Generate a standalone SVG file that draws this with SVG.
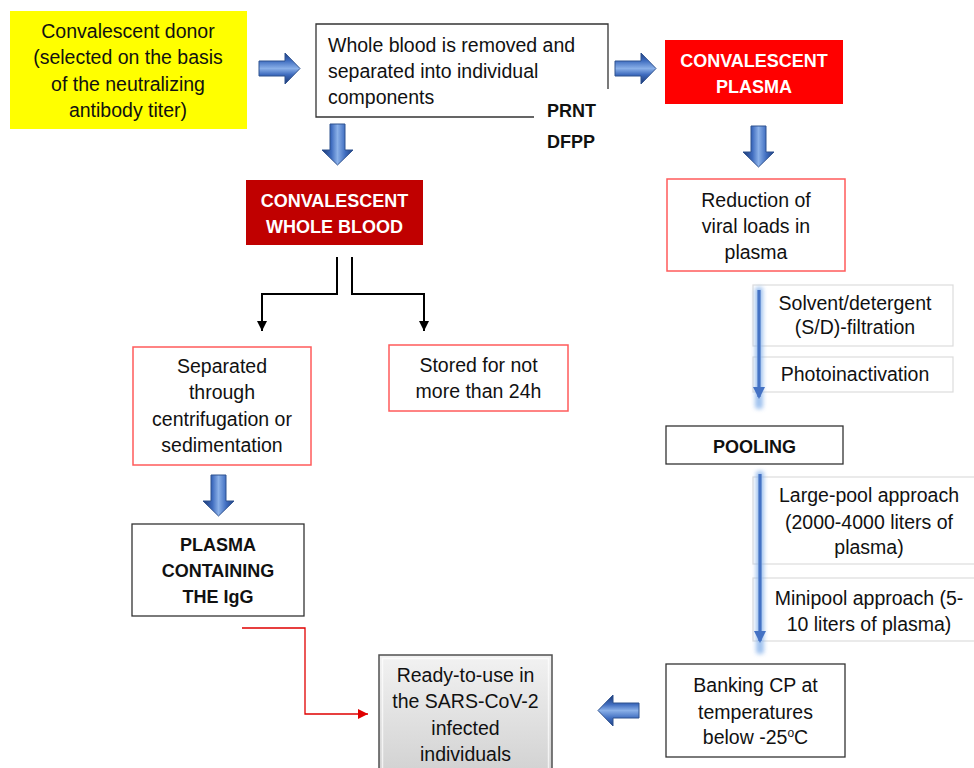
<svg xmlns="http://www.w3.org/2000/svg" width="974" height="768" viewBox="0 0 974 768">
<defs>
<style>
text{font-family:"Liberation Sans",Arial,sans-serif;font-size:19.5px;fill:#111;text-anchor:middle}
.b{font-weight:bold;font-size:18px}
.w{fill:#fff}
.l{text-anchor:start}
.blk{fill:#fff;stroke:#333;stroke-width:1.3}
.pink{fill:#fff;stroke:#FF5B5B;stroke-width:1.5}
.grey{fill:#fff;stroke:#DCDCDC;stroke-width:1.2}
.conn{fill:none;stroke:#000;stroke-width:2}
.blockarrow{fill:url(#bg);stroke:#2F528F;stroke-width:1}
.glow{fill:#8FB8EC;opacity:0.85}
</style>
<linearGradient id="bg" x1="0" y1="0" x2="0" y2="1">
<stop offset="0" stop-color="#1F3F80"/>
<stop offset="0.25" stop-color="#3F6DC0"/>
<stop offset="0.5" stop-color="#8AB0E8"/>
<stop offset="0.7" stop-color="#3E6BBE"/>
<stop offset="1" stop-color="#1A3670"/>
</linearGradient>
<linearGradient id="gg" x1="0" y1="0" x2="0" y2="1">
<stop offset="0" stop-color="#F2F2F2"/>
<stop offset="1" stop-color="#D0D0D0"/>
</linearGradient>
<path id="ra" d="M0,8 H26 V0 L41,15.5 L26,31 V23 H0 Z"/>
<marker id="ah" markerUnits="userSpaceOnUse" markerWidth="12" markerHeight="12" refX="10" refY="6" orient="auto">
<path d="M0,1 L10,6 L0,11 Z" fill="#000"/>
</marker>
<marker id="ahr" markerUnits="userSpaceOnUse" markerWidth="12" markerHeight="12" refX="10" refY="6" orient="auto">
<path d="M0,1 L10,6 L0,11 Z" fill="#E00000"/>
</marker>
<marker id="ahb" markerUnits="userSpaceOnUse" markerWidth="14" markerHeight="14" refX="10" refY="7" orient="auto">
<path d="M0,1 L12,7 L0,13 Z" fill="#4472C4"/>
</marker>
<filter id="glow" filterUnits="userSpaceOnUse" x="700" y="250" width="120" height="450">
<feGaussianBlur stdDeviation="2.2"/>
</filter>
</defs>

<g id="connectors">
<path class="conn" d="M337,257 V294 H262 V331" marker-end="url(#ah)"/>
<path class="conn" d="M352,257 V294 H424 V331" marker-end="url(#ah)"/>
<path d="M242,628 H305 V714 H368" fill="none" stroke="#E00000" stroke-width="1.3" marker-end="url(#ahr)"/>
<use href="#ra" class="blockarrow" transform="translate(259,53)"/>
<use href="#ra" class="blockarrow" transform="translate(615,53)"/>
<use href="#ra" class="blockarrow" transform="translate(353,124) rotate(90)"/>
<use href="#ra" class="blockarrow" transform="translate(774,126) rotate(90)"/>
<use href="#ra" class="blockarrow" transform="translate(234,475) rotate(90)"/>
<use href="#ra" class="blockarrow" transform="translate(639,726) rotate(180)"/>
</g>

<g id="donor">
<rect x="10" y="11" width="237" height="118" fill="#FFFF00"/>
<text x="128" y="37.5">Convalescent donor</text>
<text x="128" y="64">(selected on the basis</text>
<text x="128" y="90.5">of the neutralizing</text>
<text x="128" y="117">antibody titer)</text>
</g>

<g id="whole-blood-removed">
<path d="M534,117 H316 V24 H608 V89" fill="#fff" stroke="#333" stroke-width="1.3"/>
<text class="l" x="328" y="52">Whole blood is removed and</text>
<text class="l" x="328" y="78">separated into individual</text>
<text class="l" x="328" y="104">components</text>
</g>

<g id="prnt-dfpp">
<text class="b l" x="547" y="117">PRNT</text>
<text class="b l" x="547" y="148">DFPP</text>
</g>

<g id="convalescent-plasma">
<rect x="665" y="40" width="178" height="64" fill="#FF0000"/>
<text class="b w" x="754" y="67">CONVALESCENT</text>
<text class="b w" x="754" y="93">PLASMA</text>
</g>

<g id="convalescent-whole-blood">
<rect x="246" y="180" width="177" height="65" fill="#C00000"/>
<text class="b w" x="334.5" y="207">CONVALESCENT</text>
<text class="b w" x="334.5" y="233">WHOLE BLOOD</text>
</g>

<g id="reduction">
<rect class="pink" x="667" y="179" width="178" height="92"/>
<text x="756" y="207">Reduction of</text>
<text x="756" y="233">viral loads in</text>
<text x="756" y="259">plasma</text>
</g>

<g id="solvent">
<rect class="grey" x="753" y="285" width="200" height="61"/>
<text x="855" y="310">Solvent/detergent</text>
<text x="855" y="334">(S/D)-filtration</text>
</g>

<g id="photo">
<rect class="grey" x="753" y="357" width="200" height="35"/>
<text x="855" y="381">Photoinactivation</text>
</g>

<g id="arrow-inactivation">
<rect class="glow" x="755" y="287" width="8" height="122" rx="3" filter="url(#glow)"/>
<line x1="759" y1="290" x2="759" y2="397" stroke="#4472C4" stroke-width="3.2" marker-end="url(#ahb)"/>
</g>

<g id="pooling">
<rect class="blk" x="666" y="426" width="177" height="38"/>
<text class="b" x="754.5" y="453">POOLING</text>
</g>

<g id="large-pool">
<rect class="grey" x="753" y="477" width="230" height="87"/>
<text x="869" y="502">Large-pool approach</text>
<text x="869" y="529">(2000-4000 liters of</text>
<text x="869" y="554">plasma)</text>
</g>

<g id="minipool">
<rect class="grey" x="753" y="578" width="230" height="63"/>
<text x="869" y="605">Minipool approach (5-</text>
<text x="869" y="631">10 liters of plasma)</text>
</g>

<g id="arrow-pooling">
<rect class="glow" x="756" y="471" width="8" height="183" rx="3" filter="url(#glow)"/>
<line x1="760" y1="474" x2="760" y2="641" stroke="#4472C4" stroke-width="3.2" marker-end="url(#ahb)"/>
</g>

<g id="banking">
<rect class="blk" x="666" y="664" width="179" height="93"/>
<text x="755.5" y="692">Banking CP at</text>
<text x="755.5" y="719">temperatures</text>
<text x="755.5" y="744">below -25<tspan font-size="12" baseline-shift="super">o</tspan>C</text>
</g>

<g id="separated">
<rect class="pink" x="133" y="347" width="178" height="118"/>
<text x="222" y="373">Separated</text>
<text x="222" y="399">through</text>
<text x="222" y="426">centrifugation or</text>
<text x="222" y="452">sedimentation</text>
</g>

<g id="stored">
<rect class="pink" x="389" y="345" width="179" height="66"/>
<text x="478.5" y="372">Stored for not</text>
<text x="478.5" y="398">more than 24h</text>
</g>

<g id="plasma-igg">
<rect class="blk" x="132" y="524" width="172" height="92"/>
<text class="b" x="218" y="551">PLASMA</text>
<text class="b" x="218" y="577">CONTAINING</text>
<text class="b" x="218" y="603">THE IgG</text>
</g>

<g id="ready">
<rect x="379" y="655" width="173" height="125" fill="url(#gg)" stroke="#505050" stroke-width="1.5"/>
<rect x="382.5" y="658.5" width="166" height="125" fill="none" stroke="#FFFFFF" stroke-width="1.5" opacity="0.7"/>
<text x="465.5" y="682">Ready-to-use in</text>
<text x="465.5" y="708">the SARS-CoV-2</text>
<text x="465.5" y="735">infected</text>
<text x="465.5" y="761">individuals</text>
</g>
</svg>
